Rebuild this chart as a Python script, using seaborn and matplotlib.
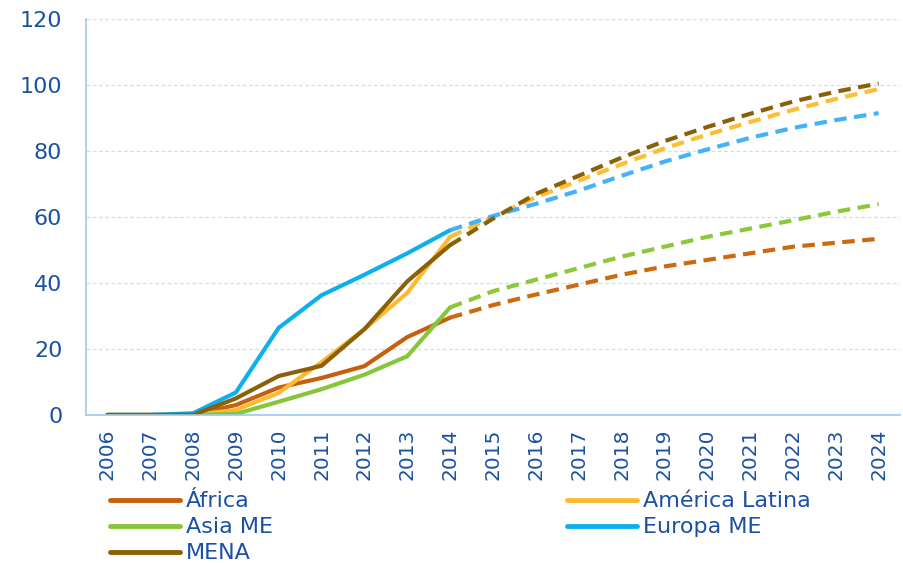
import numpy as np
import pandas as pd
import seaborn as sns
import matplotlib as mpl
mpl.use('Agg')
import matplotlib.pyplot as plt
from matplotlib.lines import Line2D

# ---------------------------------------------------------------
years = list(range(2006, 2025))
regions = ['África', 'América Latina', 'Asia ME', 'Europa ME', 'MENA']

# historic values 2006-2014 (solid) and projection 2014-2024 (dashed)
africa = [0, 0, 0, 3, 8.3, 11.2, 14.8, 23.6, 29.5,
          33.3, 36.5, 39.5, 42.5, 45, 47, 49, 51, 52.2, 53.4]
america = [0, 0, 0, 1.5, 6.7, 16, 26, 37, 54,
           60, 66, 71, 76, 80.8, 85, 88.8, 92.5, 95.8, 98.8]
asia = [0, 0, 0, 0.3, 4, 7.8, 12.2, 17.8, 32.6,
        37.5, 41, 44.5, 48, 51, 54, 56.5, 59, 61.6, 63.9]
europa = [0, 0, 0.5, 6.8, 26.4, 36.3, 42.5, 49, 56,
          60.3, 64, 68, 72.5, 76.8, 80.5, 84, 87, 89.4, 91.5]
mena = [0, 0, 0, 5, 11.8, 14.9, 26, 40.5, 51.5,
        59.5, 67, 72.5, 78, 83, 87.3, 91.3, 95, 98, 100.5]
series = [africa, america, asia, europa, mena]
last_hist = 2014

colors_solid = ['#C5600F', '#FDB92F', '#86C63A', '#0DB0EE', '#8A6008']
colors_dash = ['#CC6A10', '#FDBE33', '#8CC83A', '#45B1F6', '#8A6008']
txt = '#1B51A3'
axis_col = '#9DC8EE'
grid_col = '#C8E0F6'

sns.set_style('white')
plt.rcParams['font.family'] = ['DejaVu Sans']

fig = plt.figure(figsize=(9.04, 5.63), dpi=100)
ax = fig.add_axes([0.095, 0.263, 0.9006, 0.703])

handles = []
for name, vals, cs, cd in zip(regions, series, colors_solid, colors_dash):
    df = pd.DataFrame({'year': years, 'value': vals})
    hist = df[df['year'] <= last_hist]
    proj = df[df['year'] >= last_hist]
    sns.lineplot(data=hist, x='year', y='value', color=cs, lw=3.0, ax=ax,
                 solid_capstyle='round', solid_joinstyle='round')
    sns.lineplot(data=proj, x='year', y='value', color=cd, lw=3.0, ax=ax)
    ax.lines[-1].set_dashes((3.0, 1.8))
    handles.append(Line2D([0], [0], color=cs, lw=3.5, solid_capstyle='round'))

ax.set_xlim(2005.5, 2024.5)
ax.set_ylim(0, 120)
ax.set_yticks(range(0, 121, 20))
ax.set_xticks(years)
ax.set_xticklabels([str(y) for y in years], rotation=90, fontsize=14.5, color=txt)
ax.set_xticks(np.arange(2005.5, 2025, 1), minor=True)
ax.tick_params(axis='x', which='major', length=0, pad=10)
ax.tick_params(axis='x', which='minor', length=8, width=1, color=axis_col, direction='out')
ax.tick_params(axis='y', length=7, width=1, color=axis_col, labelsize=16,
               labelcolor=txt, direction='out', pad=10)
ax.set_xlabel('')
ax.set_ylabel('')
ax.yaxis.grid(True, color=grid_col, ls=(0, (3, 2)), lw=0.9)
ax.xaxis.grid(False)
for s in ['top', 'right']:
    ax.spines[s].set_visible(False)
for s in ['left', 'bottom']:
    ax.spines[s].set_color(axis_col)
    ax.spines[s].set_linewidth(1.2)

# legend: row-wise order in two columns
order = [0, 2, 4, 1, 3]
leg = fig.legend([handles[i] for i in order], [regions[i] for i in order],
                 ncol=2, loc='upper left', bbox_to_anchor=(0.122, 0.127),
                 frameon=False, fontsize=16, handlelength=3.15, handletextpad=0.27,
                 columnspacing=13.2, labelspacing=0.27, borderpad=0, borderaxespad=0)
for t in leg.get_texts():
    t.set_color(txt)

fig.savefig('out.png', dpi=100)
